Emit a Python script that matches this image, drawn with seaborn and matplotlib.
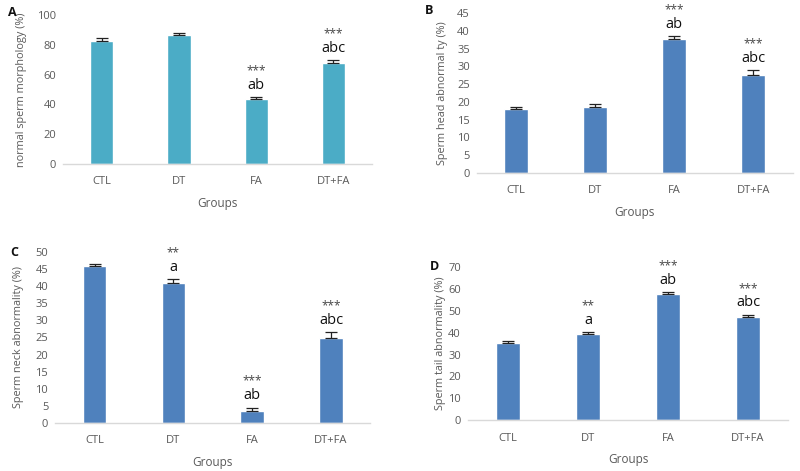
import numpy as np
import pandas as pd
import matplotlib
matplotlib.use("Agg")
import matplotlib.pyplot as plt
import seaborn as sns

# data
groups = ["CTL", "DT", "FA", "DT+FA"]

normal_mean = [82.5, 86.5, 43.5, 67.5]
normal_err = [2.0, 1.2, 1.5, 2.0]
normal_letters = ["", "", "ab", "abc"]
normal_stars = ["", "", "***", "***"]

head_mean = [18.0, 18.7, 37.7, 27.7]
head_err = [0.6, 0.6, 0.8, 1.2]
head_letters = ["", "", "ab", "abc"]
head_stars = ["", "", "***", "***"]

neck_mean = [46.0, 41.0, 3.5, 24.7]
neck_err = [0.5, 1.0, 1.0, 1.8]
neck_letters = ["", "a", "ab", "abc"]
neck_stars = ["", "**", "***", "***"]

tail_mean = [35.3, 39.5, 57.8, 47.0]
tail_err = [0.8, 0.8, 0.8, 1.2]
tail_letters = ["", "a", "ab", "abc"]
tail_stars = ["", "**", "***", "***"]

sns.set_style("white")
plt.rcParams["font.family"] = ["Open Sans", "DejaVu Sans"]

TEAL = "#4BACC6"
BLUE = "#4F81BD"
GREY = "#595959"

fig = plt.figure(figsize=(8, 4.71), dpi=100)

panels = [
    # letter, rect, means, errs, letters, stars, ylim, step, ylabel, colour, letter pos, ylabel x
    ("A", [0.079, 0.652, 0.386, 0.316], normal_mean, normal_err, normal_letters, normal_stars,
     100, 20, "normal sperm morphology (%)", TEAL, (8, 12), 22),
    ("B", [0.596, 0.633, 0.395, 0.339], head_mean, head_err, head_letters, head_stars,
     45, 5, "Sperm head abnormal ty (%)", BLUE, (425, 10), 442),
    ("C", [0.069, 0.102, 0.394, 0.363], neck_mean, neck_err, neck_letters, neck_stars,
     50, 5, "Sperm neck abnormality (%)", BLUE, (10, 252), 19),
    ("D", [0.585, 0.108, 0.400, 0.325], tail_mean, tail_err, tail_letters, tail_stars,
     70, 10, "Sperm tail abnormality (%)", BLUE, (430, 267), 440),
]

W, H = 800, 471

for tag, rect, means, errs, lets, stars, ymax, step, ylab, col, tpos, ylx in panels:
    ax = fig.add_axes(rect)
    df = pd.DataFrame({"group": groups, "value": means})
    sns.barplot(data=df, x="group", y="value", color=col, saturation=1,
                width=0.3, errorbar=None, ax=ax)
    ax.errorbar(range(len(groups)), means,
                yerr=[np.zeros(len(errs)), errs],
                fmt="none", ecolor="#222222", elinewidth=0.9, capsize=4, capthick=0.9)
    for i, (m, e) in enumerate(zip(means, errs)):
        if lets[i]:
            ax.annotate(lets[i], (i, m + e), xytext=(0, 8.5), textcoords="offset points",
                        ha="center", va="center", fontsize=10.5, color="#111111")
        if stars[i]:
            ax.annotate(stars[i], (i, m + e), xytext=(0, 19), textcoords="offset points",
                        ha="center", va="center", fontsize=8.5, color="#444444")
    ax.set_xlim(-0.5, 3.5)
    ax.set_ylim(0, ymax)
    ax.set_yticks(np.arange(0, ymax + 0.1, step))
    ax.tick_params(axis="both", length=0, labelsize=8, labelcolor=GREY, pad=5)
    ax.tick_params(axis="x", pad=9)
    for s in ["top", "right", "left"]:
        ax.spines[s].set_visible(False)
    ax.spines["bottom"].set_color("#D9D9D9")
    ax.spines["bottom"].set_linewidth(1)
    ax.set_xlabel("Groups", fontsize=8.5, color=GREY, labelpad=7)
    ax.set_ylabel("")
    fig.text(ylx / W, rect[1] + rect[3] / 2, ylab, rotation=90, ha="center",
             va="center", fontsize=7.8, color=GREY)
    fig.text(tpos[0] / W, 1 - tpos[1] / H, tag, fontsize=9, fontweight="bold",
             ha="left", va="center", color="#111111")

fig.savefig("out.png", dpi=100)
